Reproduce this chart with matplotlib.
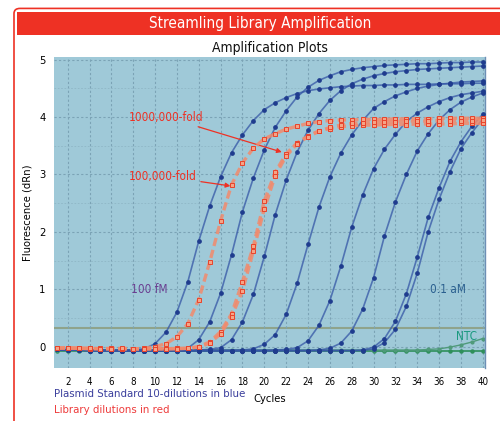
import numpy as np
import matplotlib
matplotlib.use("Agg")
import matplotlib.pyplot as plt
from matplotlib.patches import FancyBboxPatch, Rectangle

plt.rcParams['font.family'] = ['Liberation Sans Narrow', 'DejaVu Sans']
plt.rcParams['font.stretch'] = 'condensed'

cycles = np.arange(1, 41)

# plasmid standard, 10-fold dilutions (blue)
b1 = [-0.04, -0.05, -0.05, -0.06, -0.06, -0.06, -0.07, -0.06,
      -0.04, 0.05, 0.25, 0.60, 1.13, 1.84, 2.45, 2.96, 3.38, 3.69, 3.94, 4.13,
      4.25, 4.34, 4.41, 4.46, 4.49, 4.51, 4.53, 4.54,
      4.55, 4.55, 4.56, 4.56, 4.57, 4.57, 4.57, 4.58, 4.58, 4.58, 4.59, 4.59]
b2 = [-0.05, -0.06, -0.06, -0.06, -0.07, -0.07, -0.07, -0.07, -0.07, -0.07, -0.06,
      -0.06, -0.03, 0.12, 0.43, 0.93, 1.60, 2.35, 2.94, 3.43,
      3.82, 4.11, 4.35, 4.52, 4.64, 4.72, 4.79, 4.83, 4.86, 4.88,
      4.90, 4.91, 4.92, 4.93, 4.93, 4.94, 4.95, 4.95, 4.96, 4.96]
b3 = [-0.05, -0.06, -0.06, -0.07, -0.07, -0.07, -0.07, -0.07, -0.07, -0.07,
      -0.07, -0.07, -0.07, -0.06,
      -0.05, -0.02, 0.12, 0.43, 0.91, 1.57,
      2.30, 2.90, 3.39, 3.77, 4.06, 4.29, 4.46, 4.58, 4.66, 4.72,
      4.76, 4.79, 4.81, 4.83, 4.84, 4.85, 4.86, 4.87, 4.88, 4.89]
b4 = [-0.05, -0.06, -0.06, -0.06, -0.07, -0.07, -0.07, -0.07, -0.07, -0.07,
      -0.07, -0.07, -0.07, -0.07, -0.07, -0.07, -0.07, -0.06,
      -0.04, 0.04,
      0.21, 0.56, 1.10, 1.78, 2.43, 2.96, 3.37, 3.69, 3.94, 4.15,
      4.27, 4.37, 4.44, 4.50, 4.54, 4.57, 4.59, 4.61, 4.62, 4.63]
b5 = [-0.05, -0.06, -0.06, -0.07, -0.07, -0.07, -0.07, -0.07, -0.07, -0.07,
      -0.07, -0.07, -0.07, -0.07, -0.07, -0.07, -0.07, -0.07, -0.07, -0.07, -0.06,
      -0.05, -0.02, 0.10, 0.37, 0.80, 1.40, 2.08, 2.64, 3.10,
      3.44, 3.70, 3.92, 4.07, 4.18, 4.27, 4.34, 4.39, 4.42, 4.45]
b6 = [-0.05, -0.06, -0.06, -0.07, -0.07, -0.07, -0.07, -0.07, -0.07, -0.07,
      -0.07, -0.07, -0.07, -0.07, -0.07, -0.07, -0.07, -0.07, -0.07, -0.07,
      -0.07, -0.07, -0.07, -0.07,
      -0.06, -0.03, 0.06, 0.27, 0.65, 1.20,
      1.93, 2.52, 3.00, 3.41, 3.71, 3.95, 4.13, 4.26, 4.35, 4.42]
b7 = [-0.05, -0.06, -0.06, -0.07, -0.07, -0.07, -0.07, -0.07, -0.07, -0.07,
      -0.07, -0.07, -0.07, -0.07, -0.07, -0.07, -0.07, -0.07, -0.07, -0.07,
      -0.07, -0.07, -0.07, -0.07, -0.07, -0.07, -0.07, -0.07, -0.06, -0.01,
      0.14, 0.44, 0.92, 1.56, 2.25, 2.77, 3.23, 3.57, 3.84, 4.05]
b8 = [-0.05, -0.06, -0.06, -0.07, -0.07, -0.07, -0.07, -0.07, -0.07, -0.07,
      -0.07, -0.07, -0.07, -0.07, -0.07, -0.07, -0.07, -0.07, -0.07, -0.07,
      -0.07, -0.07, -0.07, -0.07, -0.07, -0.07, -0.07, -0.07, -0.07, -0.04,
      0.07, 0.30, 0.70, 1.28, 2.00, 2.57, 3.05, 3.45, 3.73, 3.97]
blue_series = [b1, b2, b3, b4, b5, b6, b7, b8]

# library dilutions (red)
r1 = [-0.03, -0.02, -0.03, -0.03, -0.04, -0.03, -0.04, -0.04, -0.03,
      0.00, 0.05, 0.17, 0.40, 0.82, 1.47, 2.19, 2.82, 3.20, 3.46, 3.62,
      3.71, 3.79, 3.84, 3.89, 3.92, 3.94, 3.95, 3.95, 3.96, 3.96,
      3.96, 3.97, 3.97, 3.97, 3.97, 3.98, 3.98, 3.98, 3.98, 3.98]
r2a = [-0.03, -0.02, -0.03, -0.04, -0.03, -0.04, -0.04, -0.04, -0.04, -0.04,
       -0.04, -0.03, -0.03,
       0.00, 0.08, 0.26, 0.57, 1.13, 1.75, 2.54,
       3.04, 3.36, 3.55, 3.67, 3.76, 3.80, 3.83, 3.85, 3.86, 3.86,
       3.87, 3.87, 3.87, 3.88, 3.88, 3.88, 3.88, 3.89, 3.89, 3.89]
r2b = [-0.02, -0.03, -0.03, -0.03, -0.04, -0.04, -0.03, -0.04, -0.04, -0.04,
       -0.04, -0.04, -0.03,
       -0.01, 0.06, 0.22, 0.52, 0.97, 1.67, 2.40,
       2.98, 3.32, 3.53, 3.66, 3.75, 3.82, 3.86, 3.89, 3.90, 3.91,
       3.92, 3.92, 3.93, 3.93, 3.93, 3.94, 3.94, 3.94, 3.94, 3.95]
red_series = [r1, r2a, r2b]

# no template controls (green)
ntc1 = [-0.07, -0.07, -0.07, -0.07, -0.07, -0.07, -0.07, -0.07, -0.07, -0.07,
        -0.07, -0.07, -0.07, -0.07, -0.07, -0.07, -0.07, -0.07, -0.07, -0.07,
        -0.07, -0.07, -0.07, -0.07, -0.07, -0.07, -0.07, -0.07, -0.07, -0.07,
        -0.07, -0.07, -0.07, -0.07, -0.07, -0.07, -0.07, -0.07, -0.07, -0.07]
ntc2 = [-0.06, -0.06, -0.06, -0.06, -0.06, -0.06, -0.06, -0.06, -0.06, -0.06,
        -0.06, -0.06, -0.06, -0.06, -0.06, -0.06, -0.06, -0.06, -0.06, -0.06,
        -0.06, -0.06, -0.06, -0.06, -0.06, -0.06, -0.06, -0.06, -0.06, -0.06,
        -0.06, -0.06, -0.06, -0.06, -0.05, -0.04, -0.01, 0.03, 0.08, 0.14]
threshold = 0.32

xticks = list(range(2, 41, 2))
yticks = [0, 1, 2, 3, 4, 5]

fig = plt.figure(figsize=(5, 4.21), dpi=100)

# red frame and title bar
frame = FancyBboxPatch((0.028, -0.05), 1.1, 1.03, boxstyle="round,pad=0,rounding_size=0.012",
                       transform=fig.transFigure, fill=False, edgecolor='#ee3124', lw=1.2)
fig.patches.append(frame)
bar = Rectangle((0.034, 0.917), 0.97, 0.055, transform=fig.transFigure,
                facecolor='#ee3124', edgecolor='none')
fig.patches.append(bar)
fig.text(0.52, 0.944, "Streamling Library Amplification", color='white',
         fontsize=11, ha='center', va='center')
fig.text(0.54, 0.887, "Amplification Plots", color='#111111', fontsize=10,
         ha='center', va='center')

ax = fig.add_axes([0.108, 0.125, 0.862, 0.74])
ax.set_facecolor('#9fc9d8')
ax.set_xlim(0.75, 40.2)
ax.set_ylim(-0.38, 5.05)

ax.set_xticks(xticks)
ax.set_yticks(yticks)
ax.set_yticks(np.arange(0.5, 5, 1), minor=True)
ax.grid(True, which='major', color='#7ba3b5', lw=0.8, ls=(0, (2, 2)))
ax.grid(True, which='minor', axis='y', color='#8fb6c6', lw=0.6, ls=(0, (2, 2)))
ax.tick_params(axis='both', which='both', length=0)
ax.tick_params(axis='x', labelsize=7, pad=6)
ax.tick_params(axis='y', labelsize=8, pad=6)
for s in ['top', 'left', 'bottom']:
    ax.spines[s].set_visible(False)
ax.spines['right'].set_color('#6d8fb5')
ax.spines['right'].set_linewidth(1.0)

ax.axhline(threshold, color='#8c9a78', lw=1.5, alpha=0.8, zorder=1)

ax.plot(cycles, ntc1, color='#2e8f5a', lw=1.2, marker='o', ms=2.2, zorder=2)
ax.plot(cycles, ntc2, color='#4f9a7a', lw=1.0, marker='o', ms=2.0, zorder=2)

for ys in blue_series:
    ax.plot(cycles, ys, color='#3556a6', lw=1.2, alpha=0.75, zorder=3)
    ax.plot(cycles, ys, ls='none', marker='o', ms=2.4, color='#1f3c8e', zorder=4)

for ys in red_series:
    ax.plot(cycles, ys, color='#f28a6c', lw=2.4, ls=(0, (2.5, 1.2)), alpha=0.85, zorder=5)
    ax.plot(cycles, ys, ls='none', marker='s', ms=3.4, mfc='#f5a486',
            mec='#e8432b', mew=0.7, zorder=6)

ax.annotate("1000,000-fold", xy=(21.6, 3.39), xytext=(7.6, 4.0), color='#ee3124',
            fontsize=8.5, va='center', ha='left',
            arrowprops=dict(arrowstyle='-|>', color='#ee3124', lw=0.9,
                            mutation_scale=7, shrinkA=1, shrinkB=0))
ax.annotate("100,000-fold", xy=(16.9, 2.8), xytext=(7.6, 2.97), color='#ee3124',
            fontsize=8.5, va='center', ha='left',
            arrowprops=dict(arrowstyle='-|>', color='#ee3124', lw=0.9,
                            mutation_scale=7, shrinkA=1, shrinkB=0))
ax.text(7.8, 1.0, "100 fM", color='#6a3f91', fontsize=8.5, va='center', ha='left')
ax.text(35.2, 1.0, "0.1 aM", color='#2a5f8f', fontsize=8.5, va='center', ha='left')
ax.text(37.5, 0.17, "NTC", color='#1b9a80', fontsize=8.5, va='center', ha='left')

ax.set_ylabel("Fluorescence (dRn)", fontsize=8, labelpad=5)
fig.text(0.54, 0.052, "Cycles", fontsize=8, ha='center', va='center')
fig.text(0.108, 0.064, "Plasmid Standard 10-dilutions in blue", color='#3a3e9c',
         fontsize=8.2, ha='left', va='center')
fig.text(0.108, 0.027, "Library dilutions in red", color='#ee3b3b',
         fontsize=8.2, ha='left', va='center')

fig.savefig("out.png", dpi=100)
